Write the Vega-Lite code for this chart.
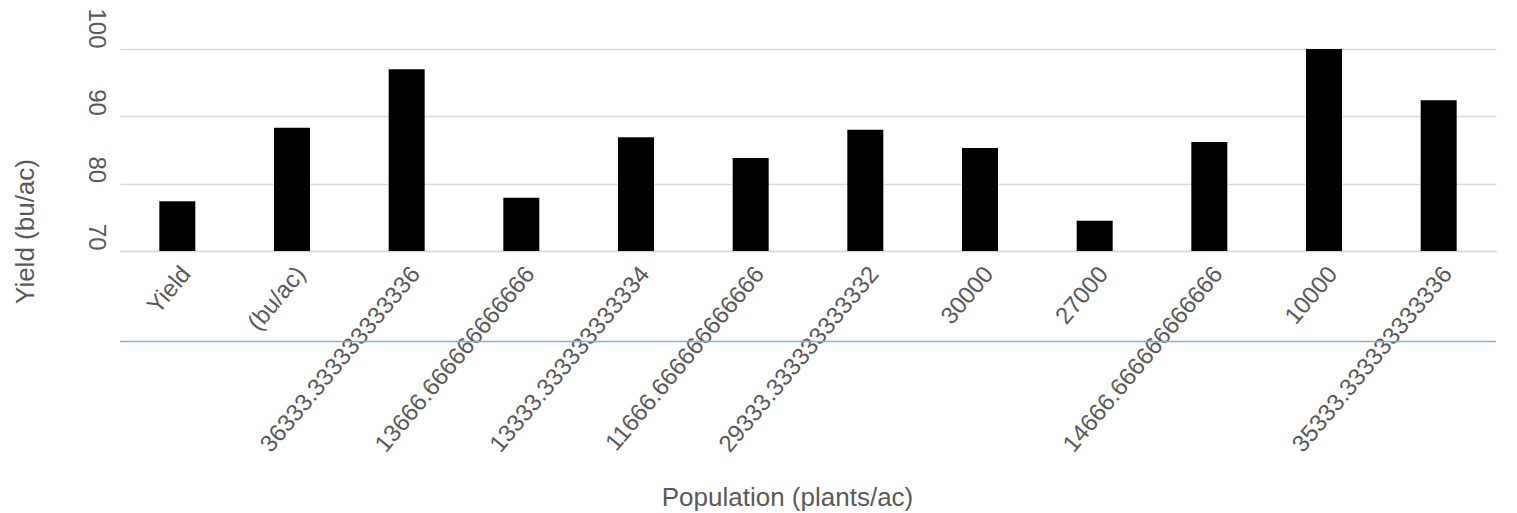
{
  "$schema": "https://vega.github.io/schema/vega-lite/v6.json",
  "width": 1376,
  "height": 202,
  "autosize": {"type": "none"},
  "padding": {"left": 120, "top": 49, "right": 21, "bottom": 262},
  "background": "#ffffff",
  "config": {
    "view": {"stroke": null},
    "font": "Liberation Sans"
  },
  "datasets": {
    "yields": [
      {"population": "Yield", "yield": 77.4},
      {"population": "(bu/ac)", "yield": 88.3},
      {"population": "36333.333333333336", "yield": 97.0},
      {"population": "13666.666666666666", "yield": 77.9},
      {"population": "13333.333333333334", "yield": 86.9},
      {"population": "11666.666666666666", "yield": 83.8},
      {"population": "29333.333333333332", "yield": 88.0},
      {"population": "30000", "yield": 85.3},
      {"population": "27000", "yield": 74.5},
      {"population": "14666.666666666666", "yield": 86.2},
      {"population": "10000", "yield": 100},
      {"population": "35333.333333333336", "yield": 92.4}
    ],
    "guide": [
      {"level": 56.55}
    ]
  },
  "layer": [
    {
      "data": {"name": "yields"},
      "mark": {"type": "bar", "color": "#000000"},
      "encoding": {
        "x": {
          "field": "population",
          "type": "nominal",
          "sort": null,
          "scale": {"paddingInner": 0.686, "paddingOuter": 0.343},
          "axis": {
            "title": "Population (plants/ac)",
            "titleFont": "Liberation Sans",
            "titleFontSize": 26,
            "titleFontWeight": "normal",
            "titleColor": "#595959",
            "titleX": 667,
            "titleY": 254,
            "titleAlign": "center",
            "titleBaseline": "alphabetic",
            "labelAngle": -50,
            "labelAlign": "right",
            "labelBaseline": "top",
            "labelPadding": 11,
            "labelFontSize": 24,
            "labelColor": "#595959",
            "labelLimit": 0,
            "labelOverlap": false,
            "ticks": false,
            "domain": true,
            "domainColor": "#d9d9d9",
            "domainWidth": 1.5,
            "grid": false
          }
        },
        "y": {
          "field": "yield",
          "type": "quantitative",
          "scale": {"domain": [70, 100], "zero": false, "nice": false},
          "axis": {
            "title": "Yield (bu/ac)",
            "titleFont": "Liberation Sans",
            "titleFontSize": 26,
            "titleFontWeight": "normal",
            "titleColor": "#595959",
            "titleAngle": -90,
            "titleX": -87,
            "titleY": 182,
            "titleAlign": "center",
            "titleBaseline": "alphabetic",
            "values": [70, 80, 90, 100],
            "labelAngle": 90,
            "labelAlign": "right",
            "labelBaseline": "alphabetic",
            "labelPadding": 32,
            "labelOffset": -1,
            "labelFontSize": 24,
            "labelColor": "#595959",
            "ticks": false,
            "domain": false,
            "grid": true,
            "gridColor": "#d9d9d9",
            "gridWidth": 1.5
          }
        },
        "y2": {"datum": 70}
      }
    },
    {
      "data": {"name": "guide"},
      "mark": {"type": "rule", "color": "#7fb0de", "strokeWidth": 1.5},
      "encoding": {
        "y": {"field": "level", "type": "quantitative"}
      }
    }
  ]
}
